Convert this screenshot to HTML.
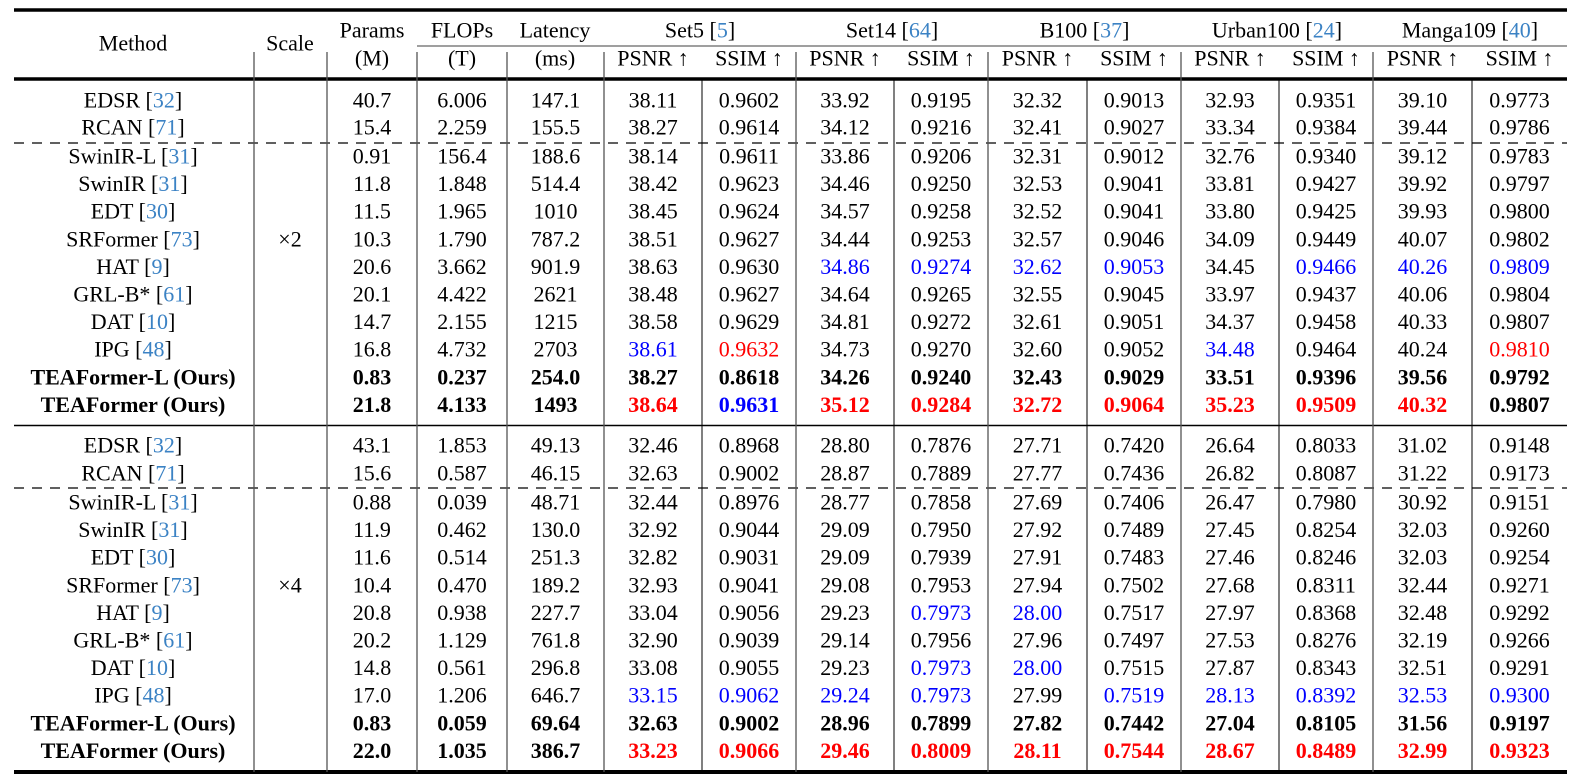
<!DOCTYPE html>
<html><head><meta charset="utf-8">
<style>
html,body{margin:0;padding:0;background:#fff;}
svg{display:block;font-family:"Liberation Serif","Times New Roman",serif;}
.c{fill:#3b82c4;}
</style></head>
<body>
<svg id="t" width="1584" height="779" viewBox="0 0 1584 779" xmlns="http://www.w3.org/2000/svg"></svg>
<script>
const borders=[14,254,327,417,507,604,702,796,894,988,1087,1181,1279,1373,1472,1567];
const datasets=[["Set5","5"],["Set14","64"],["B100","37"],["Urban100","24"],["Manga109","40"]];
const methods=[["EDSR","32"],["RCAN","71"],["SwinIR-L","31"],["SwinIR","31"],["EDT","30"],["SRFormer","73"],["HAT","9"],["GRL-B*","61"],["DAT","10"],["IPG","48"],["TEAFormer-L (Ours)",""],["TEAFormer (Ours)",""]];
const x2=[
"40.7 6.006 147.1 38.11 0.9602 33.92 0.9195 32.32 0.9013 32.93 0.9351 39.10 0.9773",
"15.4 2.259 155.5 38.27 0.9614 34.12 0.9216 32.41 0.9027 33.34 0.9384 39.44 0.9786",
"0.91 156.4 188.6 38.14 0.9611 33.86 0.9206 32.31 0.9012 32.76 0.9340 39.12 0.9783",
"11.8 1.848 514.4 38.42 0.9623 34.46 0.9250 32.53 0.9041 33.81 0.9427 39.92 0.9797",
"11.5 1.965 1010 38.45 0.9624 34.57 0.9258 32.52 0.9041 33.80 0.9425 39.93 0.9800",
"10.3 1.790 787.2 38.51 0.9627 34.44 0.9253 32.57 0.9046 34.09 0.9449 40.07 0.9802",
"20.6 3.662 901.9 38.63 0.9630 34.86b 0.9274b 32.62b 0.9053b 34.45 0.9466b 40.26b 0.9809b",
"20.1 4.422 2621 38.48 0.9627 34.64 0.9265 32.55 0.9045 33.97 0.9437 40.06 0.9804",
"14.7 2.155 1215 38.58 0.9629 34.81 0.9272 32.61 0.9051 34.37 0.9458 40.33 0.9807",
"16.8 4.732 2703 38.61b 0.9632r 34.73 0.9270 32.60 0.9052 34.48b 0.9464 40.24 0.9810r",
"0.83 0.237 254.0 38.27 0.8618 34.26 0.9240 32.43 0.9029 33.51 0.9396 39.56 0.9792",
"21.8 4.133 1493 38.64r 0.9631b 35.12r 0.9284r 32.72r 0.9064r 35.23r 0.9509r 40.32r 0.9807"];
const x4=[
"43.1 1.853 49.13 32.46 0.8968 28.80 0.7876 27.71 0.7420 26.64 0.8033 31.02 0.9148",
"15.6 0.587 46.15 32.63 0.9002 28.87 0.7889 27.77 0.7436 26.82 0.8087 31.22 0.9173",
"0.88 0.039 48.71 32.44 0.8976 28.77 0.7858 27.69 0.7406 26.47 0.7980 30.92 0.9151",
"11.9 0.462 130.0 32.92 0.9044 29.09 0.7950 27.92 0.7489 27.45 0.8254 32.03 0.9260",
"11.6 0.514 251.3 32.82 0.9031 29.09 0.7939 27.91 0.7483 27.46 0.8246 32.03 0.9254",
"10.4 0.470 189.2 32.93 0.9041 29.08 0.7953 27.94 0.7502 27.68 0.8311 32.44 0.9271",
"20.8 0.938 227.7 33.04 0.9056 29.23 0.7973b 28.00b 0.7517 27.97 0.8368 32.48 0.9292",
"20.2 1.129 761.8 32.90 0.9039 29.14 0.7956 27.96 0.7497 27.53 0.8276 32.19 0.9266",
"14.8 0.561 296.8 33.08 0.9055 29.23 0.7973b 28.00b 0.7515 27.87 0.8343 32.51 0.9291",
"17.0 1.206 646.7 33.15b 0.9062b 29.24b 0.7973b 27.99 0.7519b 28.13b 0.8392b 32.53b 0.9300b",
"0.83 0.059 69.64 32.63 0.9002 28.96 0.7899 27.82 0.7442 27.04 0.8105 31.56 0.9197",
"22.0 1.035 386.7 33.23r 0.9066r 29.46r 0.8009r 28.11r 0.7544r 28.67r 0.8489r 32.99r 0.9323r"];
const svg=document.getElementById('t');
const NS="http://www.w3.org/2000/svg";
function el(tag,attrs){const e=document.createElementNS(NS,tag);for(const k in attrs)e.setAttribute(k,attrs[k]);svg.appendChild(e);return e;}
function line(x1,y1,x2_,y2,w,col,dash){const l=el('line',{x1:x1,y1:y1,x2:x2_,y2:y2,stroke:col||'#000','stroke-width':w});if(dash)l.setAttribute('stroke-dasharray',dash);return l;}
function text(x,y,str,opt){opt=opt||{};const t=el('text',{x:x,y:y+7.5,'text-anchor':'middle','font-size':22});if(opt.bold)t.setAttribute('font-weight','bold');if(opt.fill)t.setAttribute('fill',opt.fill);t.textContent=str;return t;}
function textCite(x,y,name,cite,opt){opt=opt||{};const t=el('text',{x:x,y:y+7.5,'text-anchor':'middle','font-size':22});if(opt.bold)t.setAttribute('font-weight','bold');
 
 const a=document.createElementNS(NS,'tspan');a.textContent=name+(cite?' [':'');t.appendChild(a);
 if(cite){const b=document.createElementNS(NS,'tspan');b.setAttribute('class','c');b.textContent=cite;t.appendChild(b);const c=document.createElementNS(NS,'tspan');c.textContent=']';t.appendChild(c);}
 return t;}
const cx=i=>(borders[i]+borders[i+1])/2;
// rules
line(14,10,1567,10,3.5);
line(417,46,1567,46,1.2,'#666');
line(14,79,1567,79,3.5);
line(14,425.5,1567,425.5,1.5);
line(14,772,1567,772,4);
line(14,143,1567,143,1.2,'#000','10 8');
line(14,488,1567,488,1.2,'#000','10 8');
// header verticals
[254,327,417,507,604,796,988,1181,1373].forEach(x=>line(x,52,x,79,1.3,'#555'));
// body verticals
borders.slice(1,-1).forEach((x,i)=>{const grp=[254,327,417,507,604,796,988,1181,1373].includes(x);line(x,79,x,772,grp?1.3:1,grp?'#555':'#000');});
// header text
text(133,43,'Method',{name:'method-header'});
text(290,43,'Scale',{name:'scale-header'});
text(372,30,'Params',{name:'params-header'});text(372,58,'(M)',{name:'params-unit'});
text(462,30,'FLOPs',{name:'flops-header'});text(462,58,'(T)',{name:'flops-unit'});
text(555,30,'Latency',{name:'latency-header'});text(555,58,'(ms)',{name:'latency-unit'});
datasets.forEach((d,k)=>{const i=5+2*k;textCite((borders[i]+borders[i+2])/2,30,d[0],d[1],{name:'dataset-header'});
 text(cx(i),58,'PSNR ↑',{name:'psnr-header'});text(cx(i+1),58,'SSIM ↑',{name:'ssim-header'});});
// body
function block(rows,ys,scale,scaleY){
 rows.forEach((r,ri)=>{const y=ys[ri];const bold=ri>=10;
  textCite(133,y,methods[ri][0],methods[ri][1],{bold:bold,name:'method-name'});
  r.split(' ').forEach((v,ci)=>{let fill=null;if(v.endsWith('r')){fill='#ff0000';v=v.slice(0,-1);}else if(v.endsWith('b')){fill='#0000ff';v=v.slice(0,-1);}
   text(cx(ci+2),y,v,{bold:bold,fill:fill,name:'value-cell'});});});
 text(290,scaleY,scale,{name:'scale-label'});
}
function ysFor(a,b,start){const ys=[a,b];for(let i=0;i<10;i++)ys.push(start+i*27.6);return ys;}
block(x2,ysFor(100,127,156),'×2',156+3*27.6);
block(x4,ysFor(445,473,502),'×4',502+3*27.6);
</script>
</body></html>
